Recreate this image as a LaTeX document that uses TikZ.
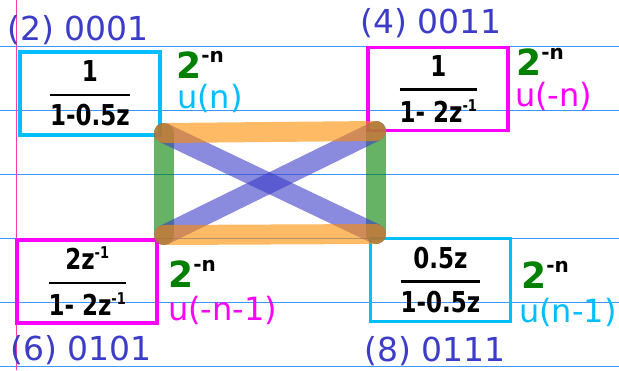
\documentclass[tikz,border=0pt]{standalone}
\usepackage{fontspec}
\setmainfont{DejaVu Sans}
\definecolor{rulecol}{RGB}{60,150,255}
\definecolor{margincol}{RGB}{255,60,170}
\definecolor{cyancol}{RGB}{0,190,255}
\definecolor{magcol}{RGB}{255,0,255}
\definecolor{labcol}{RGB}{60,60,200}
\definecolor{greencol}{RGB}{0,128,0}
\definecolor{orangecol}{RGB}{255,140,0}
\newcommand{\zfrac}[2]{\scalebox{1}[1.25]{$\displaystyle{\hbox{#1}\above 2.2pt\hbox{#2}}$}}
\newcommand{\zinv}{\raisebox{9pt}{\fontsize{13}{13}\selectfont -1}}
\newcommand{\twon}{{\color{greencol}\fontsize{36}{36}\selectfont 2}\raisebox{16pt}{\fontsize{20}{20}\selectfont -n}}
\begin{document}
\begin{tikzpicture}[x=1pt, y=-1pt,
    zbox/.style={draw, line width=3.8pt, minimum width=140pt, minimum height=83pt, inner sep=0pt, font=\fontsize{23}{23}\selectfont\bfseries},
    tag/.style={anchor=base west, inner sep=0pt, text=labcol, font=\fontsize{33}{33}\selectfont},
    seq/.style={anchor=base west, inner sep=0pt, font=\fontsize{32}{32}\selectfont},
    expo/.style={anchor=base west, inner sep=0pt, font=\bfseries},
    band/.style={line width=20pt, line cap=round, opacity=0.6}]
    \useasboundingbox (0,0) rectangle (619,370);
    % ruled paper
    \foreach \y in {46,110,174,238,302,366}
        \draw[rulecol, line width=1pt] (0,\y) -- (619,\y);
    \draw[margincol, line width=1.5pt] (16.5,0) -- (16.5,370);
    % boxes
    \node[zbox, draw=cyancol] (b2) at (90,93.5) {\zfrac{1}{1-0.5z}};
    \node[zbox, draw=magcol] (b4) at (438.3,89) {\zfrac{1}{1- 2z\zinv}};
    \node[zbox, draw=magcol] (b6) at (87.2,281.3) {\zfrac{2z\zinv}{1- 2z\zinv}};
    \node[zbox, draw=cyancol] (b8) at (440.5,280) {\zfrac{0.5z}{1-0.5z}};
    % labels
    \node[tag] (l2) at (7,40) {(2) 0001};
    \node[tag] (l4) at (360,33.5) {(4) 0011};
    \node[tag] (l6) at (10,360) {(6) 0101};
    \node[tag] (l8) at (364,361) {(8) 0111};
    \node[expo] (e2) at (176,78) {\twon};
    \node[expo] (e4) at (516,75) {\twon};
    \node[expo] (e6) at (168,287) {\twon};
    \node[expo] (e8) at (521,288) {\twon};
    \node[seq, text=cyancol] (u2) at (177,108) {u(n)};
    \node[seq, text=magcol] (u4) at (515,106) {u(-n)};
    \node[seq, text=magcol] (u6) at (168,320) {u(-n-1)};
    \node[seq, text=cyancol] (u8) at (519,322) {u(n-1)};
    % connectors
    \coordinate (tl) at (164,133);
    \coordinate (tr) at (376,131);
    \coordinate (bl) at (164,235);
    \coordinate (br) at (376,234);
    \draw[band, greencol] (tl) -- (bl);
    \draw[band, greencol] (tr) -- (br);
    \draw[band, labcol] (tl) -- (br);
    \draw[band, labcol] (tr) -- (bl);
    \draw[band, orangecol] (tl) -- (tr);
    \draw[band, orangecol] (bl) -- (br);
\end{tikzpicture}
\end{document}
